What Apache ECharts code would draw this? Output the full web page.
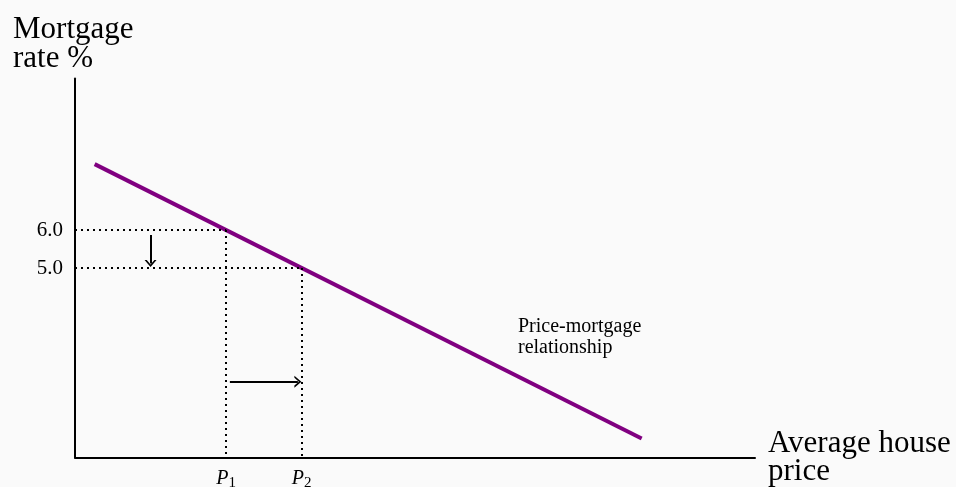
<!DOCTYPE html>
<html>
<head>
<meta charset="utf-8">
<script src="https://cdn.jsdelivr.net/npm/echarts@6/dist/echarts.min.js"></script>
<style>
  html, body { margin: 0; background: #fafafa; }
  #chart { width: 956px; height: 487px; }
</style>
</head>
<body>
<div id="chart"></div>
<script>
// price-mortgage relationship, drawn as a straight line
const curve = [[0.26, 7.74], [7.5, 0.5]];
// rates on the y axis and the prices they map to
const rates = [6.0, 5.0];
const prices = [2, 3];
const priceSubs = ['1', '2'];
// arrows: rate falls, price rises
const rateArrow = [[1, 5.87], [1, 5.12]];
const priceArrow = [[2.05, 2], [2.95, 2]];

const serif = 'Liberation Serif';
const chevron = 'path://M0,10 L5,0 L10,10 L8.2,10 L5,3.6 L1.8,10 Z';

const guides = [];
rates.forEach(function(r, i) {
  guides.push([{ coord: [0, r] }, { coord: [prices[i], r] }]);
  guides.push([{ coord: [prices[i], r] }, { coord: [prices[i], 0] }]);
});
const arrowStyle = { type: 'solid', width: 2, color: '#000' };
guides.push([{ coord: rateArrow[0], symbol: 'none', lineStyle: arrowStyle },
             { coord: rateArrow[1], symbol: chevron, symbolSize: [12, 7] }]);
guides.push([{ coord: priceArrow[0], symbol: 'none', lineStyle: arrowStyle },
             { coord: priceArrow[1], symbol: chevron, symbolSize: [12, 7] }]);

const chart = echarts.init(document.getElementById('chart'));
chart.setOption({
  backgroundColor: '#fafafa',
  animation: false,
  grid: { left: 75, top: 78.5, width: 680, bottom: 29.5, outerBoundsMode: 'none' },
  title: {
    text: 'Mortgage\nrate %',
    left: 8, top: 10,
    textStyle: { fontFamily: serif, fontSize: 31, fontWeight: 'normal', color: '#000', lineHeight: 29 }
  },
  graphic: [{
    type: 'text', left: 518, top: 316,
    style: { text: 'Price-mortgage\nrelationship', font: '20px "Liberation Serif"', fill: '#000', lineHeight: 21 }
  }],
  xAxis: {
    type: 'value', min: 0, max: 9, interval: 1,
    name: 'Average house\nprice', nameLocation: 'end', nameGap: 13,
    nameTextStyle: { fontFamily: serif, fontSize: 31, color: '#000', align: 'left', verticalAlign: 'middle', lineHeight: 28 },
    axisLine: { show: true, lineStyle: { color: '#000', width: 2 } },
    axisTick: { show: false },
    splitLine: { show: false },
    axisLabel: {
      customValues: prices,
      margin: 9,
      formatter: function(v) { return '{p|P}{s|' + priceSubs[prices.indexOf(v)] + '}'; },
      rich: {
        p: { fontFamily: serif, fontStyle: 'italic', fontSize: 20, color: '#000' },
        s: { fontFamily: serif, fontSize: 15, color: '#000', padding: [9, 0, 0, 0] }
      }
    }
  },
  yAxis: {
    type: 'value', min: 0, max: 10, interval: 1,
    axisLine: { show: true, lineStyle: { color: '#000', width: 2 } },
    axisTick: { show: false },
    splitLine: { show: false },
    axisLabel: {
      customValues: rates,
      margin: 12,
      fontFamily: serif, fontSize: 21, color: '#000',
      formatter: function(v) { return v.toFixed(1); }
    }
  },
  series: [{
    type: 'line',
    data: curve,
    symbol: 'none',
    silent: true,
    lineStyle: { color: '#800080', width: 4 },
    markLine: {
      silent: true,
      symbol: 'none',
      label: { show: false },
      lineStyle: { type: [2, 4], width: 2, color: '#000' },
      emphasis: { disabled: true },
      data: guides
    }
  }]
});
</script>
</body>
</html>
